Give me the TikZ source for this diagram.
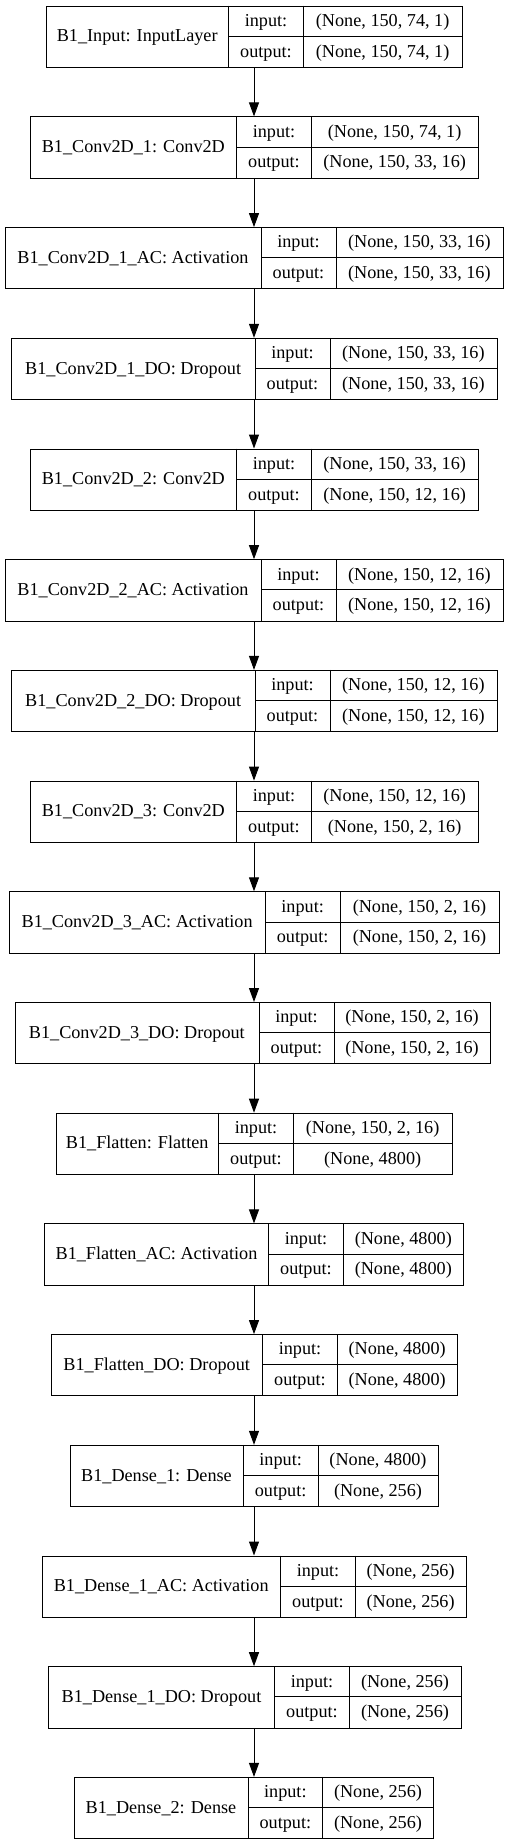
\documentclass[tikz,border=0pt]{standalone}
\usepackage{fontspec}
\setmainfont{Liberation Serif}
\usetikzlibrary{arrows.meta}
\tikzset{
 kbox/.style={draw=black, line width=1pt, inner sep=0pt, minimum height=61.3pt, anchor=north west},
 kline/.style={draw=black, line width=1pt},
 ktext/.style={inner sep=0pt, anchor=base, font=\fontsize{18.2}{22}\selectfont},
 karrow/.style={draw=black, line width=1pt, -{Triangle[length=14pt, width=10pt]}},
}
\newcommand{\klayer}[9]{%
 \pgfmathsetmacro{\ktop}{5.7+110.7*#2}%
 \node[kbox, minimum width={(#6-#3)*1pt}] (#1) at (#3,-\ktop) {};
 \draw[kline] (#4,-\ktop) -- (#4,{-\ktop-61.3});
 \draw[kline] (#5,-\ktop) -- (#5,{-\ktop-61.3});
 \draw[kline] (#4,{-\ktop-30.7}) -- (#6,{-\ktop-30.7});
 \node[ktext] (#1-lab) at ({(#3+#4)/2},{-\ktop-36.2}) {#7};
 \node[ktext] (#1-i) at ({(#4+#5)/2},{-\ktop-20.8}) {input:};
 \node[ktext] (#1-o) at ({(#4+#5)/2},{-\ktop-51.5}) {output:};
 \node[ktext] (#1-in) at ({(#5+#6)/2},{-\ktop-20.8}) {#8};
 \node[ktext] (#1-out) at ({(#5+#6)/2},{-\ktop-51.5}) {#9};
}
\begin{document}
\begin{tikzpicture}[x=1pt,y=1pt]
\useasboundingbox (0,0) rectangle (508,-1844);
\fill[white] (0,0) rectangle (508,-1844);
\coordinate (axis) at (254,0);
\klayer{b0}{0}{45.7}{228.7}{303.3}{462}{B1\_Input: InputLayer}{(None, 150, 74, 1)}{(None, 150, 74, 1)}
\klayer{b1}{1}{30}{236.7}{311.3}{478}{B1\_Conv2D\_1: Conv2D}{(None, 150, 74, 1)}{(None, 150, 33, 16)}
\klayer{b2}{2}{5}{261}{336}{502.7}{B1\_Conv2D\_1\_AC: Activation}{(None, 150, 33, 16)}{(None, 150, 33, 16)}
\klayer{b3}{3}{11.3}{255}{330}{496.7}{B1\_Conv2D\_1\_DO: Dropout}{(None, 150, 33, 16)}{(None, 150, 33, 16)}
\klayer{b4}{4}{30}{236.7}{311.3}{478}{B1\_Conv2D\_2: Conv2D}{(None, 150, 33, 16)}{(None, 150, 12, 16)}
\klayer{b5}{5}{5}{261}{336}{502.7}{B1\_Conv2D\_2\_AC: Activation}{(None, 150, 12, 16)}{(None, 150, 12, 16)}
\klayer{b6}{6}{11.3}{255}{330}{496.7}{B1\_Conv2D\_2\_DO: Dropout}{(None, 150, 12, 16)}{(None, 150, 12, 16)}
\klayer{b7}{7}{30}{236.7}{311.3}{478}{B1\_Conv2D\_3: Conv2D}{(None, 150, 12, 16)}{(None, 150, 2, 16)}
\klayer{b8}{8}{9}{265.3}{340}{499}{B1\_Conv2D\_3\_AC: Activation}{(None, 150, 2, 16)}{(None, 150, 2, 16)}
\klayer{b9}{9}{14.7}{259}{334}{490}{B1\_Conv2D\_3\_DO: Dropout}{(None, 150, 2, 16)}{(None, 150, 2, 16)}
\klayer{b10}{10}{55.7}{218.7}{293.3}{452}{B1\_Flatten: Flatten}{(None, 150, 2, 16)}{(None, 4800)}
\klayer{b11}{11}{44.3}{268.7}{343.3}{463.3}{B1\_Flatten\_AC: Activation}{(None, 4800)}{(None, 4800)}
\klayer{b12}{12}{50.7}{262.7}{337.3}{457}{B1\_Flatten\_DO: Dropout}{(None, 4800)}{(None, 4800)}
\klayer{b13}{13}{69.7}{243.3}{318}{438}{B1\_Dense\_1: Dense}{(None, 4800)}{(None, 256)}
\klayer{b14}{14}{41.7}{280.7}{355.3}{466}{B1\_Dense\_1\_AC: Activation}{(None, 256)}{(None, 256)}
\klayer{b15}{15}{48.3}{274.7}{349.3}{460.7}{B1\_Dense\_1\_DO: Dropout}{(None, 256)}{(None, 256)}
\klayer{b16}{16}{74}{248}{322.7}{433.3}{B1\_Dense\_2: Dense}{(None, 256)}{(None, 256)}
\foreach \a/\b in {b0/b1,b1/b2,b2/b3,b3/b4,b4/b5,b5/b6,b6/b7,b7/b8,b8/b9,b9/b10,b10/b11,b11/b12,b12/b13,b13/b14,b14/b15,b15/b16}
 \draw[karrow] (axis |- \a.south) -- (axis |- \b.north);
\end{tikzpicture}
\end{document}
